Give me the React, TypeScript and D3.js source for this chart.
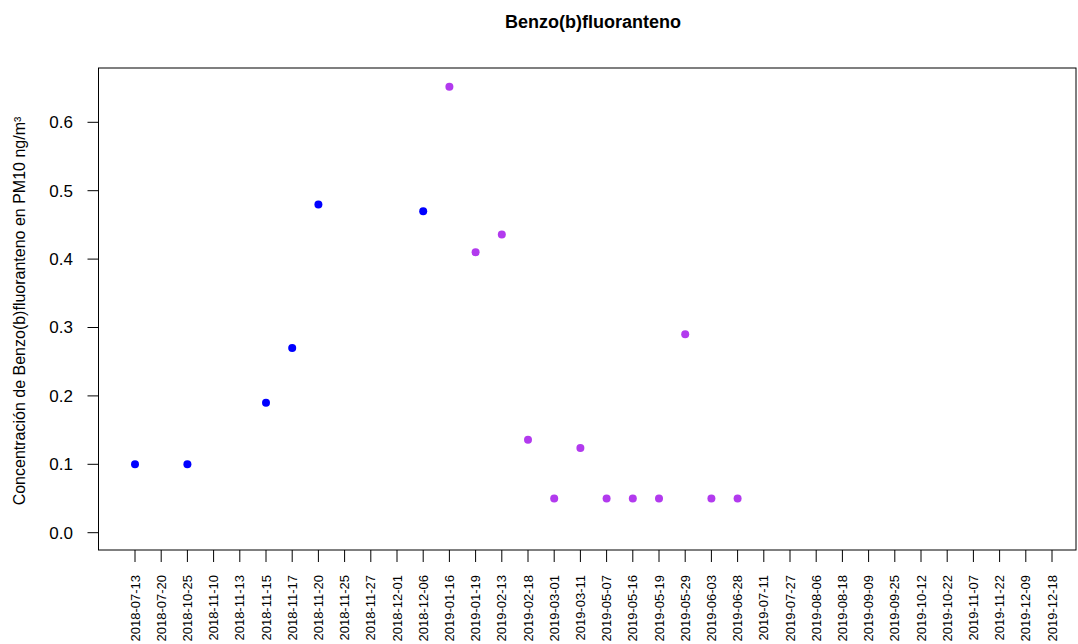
import React from "react";
import * as d3 from "d3";

const dates = [
  "2018-07-13", "2018-07-20", "2018-10-25", "2018-11-10", "2018-11-13", "2018-11-15",
  "2018-11-17", "2018-11-20", "2018-11-25", "2018-11-27", "2018-12-01", "2018-12-06",
  "2019-01-16", "2019-01-19", "2019-02-13", "2019-02-18", "2019-03-01", "2019-03-11",
  "2019-05-07", "2019-05-16", "2019-05-19", "2019-05-29", "2019-06-03", "2019-06-28",
  "2019-07-11", "2019-07-27", "2019-08-06", "2019-08-18", "2019-09-09", "2019-09-25",
  "2019-10-12", "2019-10-22", "2019-11-07", "2019-11-22", "2019-12-09", "2019-12-18",
];

// 2018 samples
const series2018Dates = ["2018-07-13", "2018-10-25", "2018-11-15", "2018-11-17", "2018-11-20", "2018-12-06"];
const series2018Values = [0.1, 0.1, 0.19, 0.27, 0.48, 0.47];

// 2019 samples
const series2019Dates = [
  "2019-01-16", "2019-01-19", "2019-02-13", "2019-02-18", "2019-03-01", "2019-03-11",
  "2019-05-07", "2019-05-16", "2019-05-19", "2019-05-29", "2019-06-03", "2019-06-28",
];
const series2019Values = [0.652, 0.41, 0.436, 0.136, 0.05, 0.124, 0.05, 0.05, 0.05, 0.29, 0.05, 0.05];

const yTicks = [0, 0.1, 0.2, 0.3, 0.4, 0.5, 0.6];

const W = 1078;
const H = 644;
const box = { left: 98.5, right: 1076, top: 68, bottom: 550 };

export default function App() {
  const x = d3.scaleLinear().domain([1, dates.length]).range([135, 1052]);
  const xOf = (d: string) => x(dates.indexOf(d) + 1);
  const y = d3.scaleLinear().domain([0, 0.6]).range([532.7, 122.3]);
  const font = "Liberation Sans, Arial, sans-serif";

  const pts = [
    ...series2018Dates.map((d, i) => ({ d, v: series2018Values[i], c: "#0000FF" })),
    ...series2019Dates.map((d, i) => ({ d, v: series2019Values[i], c: "#B23AEE" })),
  ];

  return (
    <svg width={W} height={H} style={{ position: "absolute", left: 0, top: 0, background: "#fff" }} fontFamily={font}>
      <text x={593} y={28} textAnchor="middle" fontWeight="bold" fontSize={18}>
        Benzo(b)fluoranteno
      </text>
      <rect x={box.left} y={box.top} width={box.right - box.left} height={box.bottom - box.top}
        fill="none" stroke="#000" strokeWidth={1} />
      {yTicks.map((t) => (
        <g key={t}>
          <line x1={box.left} x2={box.left - 11} y1={y(t)} y2={y(t)} stroke="#000" />
          <text x={73} y={y(t)} dy="0.35em" textAnchor="end" fontSize={17}>
            {t.toFixed(1)}
          </text>
        </g>
      ))}
      <text transform={`translate(25,311) rotate(-90)`} textAnchor="middle" fontSize={16}>
        Concentración de Benzo(b)fluoranteno en PM10 ng/m³
      </text>
      {dates.map((d, i) => (
        <g key={d}>
          <line x1={x(i + 1)} x2={x(i + 1)} y1={box.bottom} y2={box.bottom + 12} stroke="#000" />
          <text transform={`translate(${x(i + 1)},${575}) rotate(-90)`} textAnchor="end" dy="0.35em" fontSize={13}>
            {d}
          </text>
        </g>
      ))}
      {pts.map((p) => (
        <circle key={p.d} cx={xOf(p.d)} cy={y(p.v)} r={4} fill={p.c} />
      ))}
    </svg>
  );
}
